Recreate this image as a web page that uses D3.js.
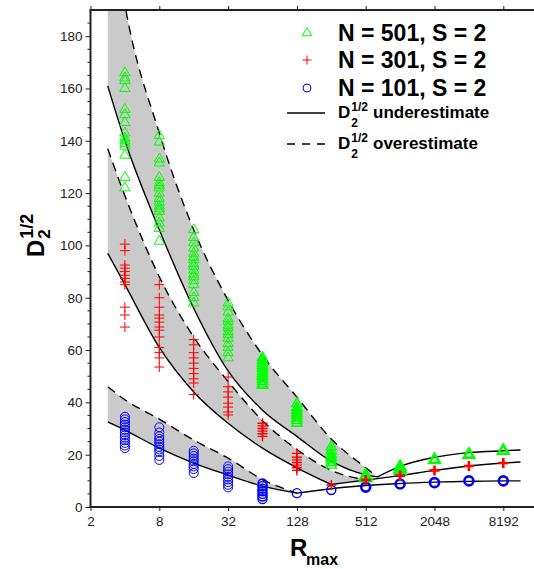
<!DOCTYPE html>
<html>
<head>
<meta charset="utf-8">
<script src="https://cdn.jsdelivr.net/npm/d3@7"></script>
<style>
  body { margin: 0; background: #fff; }
  svg { font-family: "Liberation Sans", Arial, sans-serif; }
  .tick-label { font-size: 13.5px; fill: #222; }
  .legend-big { font-size: 23px; font-weight: bold; }
  .legend-small { font-size: 17px; font-weight: bold; }
</style>
</head>
<body>
<div class="chart"></div>
<script>
/* values */
const xTicks = [2, 8, 32, 128, 512, 2048, 8192];
const yTicks = [0, 20, 40, 60, 80, 100, 120, 140, 160, 180];
const rMax = [4, 8, 16, 32, 64, 128, 256, 512, 1024, 2048, 4096, 8192];

// N = 501 (green triangles), one list per R_max
const n501 = [
  [166, 164, 163, 160, 152, 150, 147, 143, 141, 140, 139, 138, 134.5, 126, 122],
  [142, 139.5, 133, 131.5, 126, 124, 123, 122, 120, 118, 116.5, 115, 114, 113, 110.5, 108.5, 106.5, 101.6],
  [106, 103, 101, 99, 97, 95.5, 94.5, 93, 92, 90.5, 89, 88, 86.5, 85, 82, 80, 78],
  [78, 76.5, 74.5, 72, 71, 69.5, 68.5, 67, 66, 64.5, 62.5, 61, 59, 57],
  [57, 56, 55, 54, 53, 52, 51, 50, 49, 48, 47, 46.5],
  [39.5, 38, 37, 36, 35, 34, 33, 32],
  [23, 21.5, 20, 19, 18, 17, 16],
  [12, 11.5, 11],
  [15.3, 14.5, 13.8],
  [18],
  [20],
  [21.5]
];
// N = 301 (red plus)
const n301 = [
  [100.5, 98, 92.5, 91.3, 90, 88.6, 87.4, 86, 85, 76.4, 73.4, 68.8],
  [85, 80, 76.4, 73.4, 72.2, 70.7, 68.8, 67.6, 65, 61, 59, 57, 53.5],
  [64, 62, 59, 57, 55, 53, 51, 49, 47.4, 43],
  [49.7, 46, 44, 42, 39.7, 38.2, 36.3, 35.2],
  [32, 31, 30, 29, 28, 27],
  [20.5, 19, 18, 17, 16, 15, 14],
  [8.4],
  [10.3],
  [12],
  [14],
  [15.7],
  [16.8]
];
// N = 101 (blue circles)
const n101 = [
  [34.5, 33.5, 32.5, 31.5, 30.5, 29.5, 28.5, 27.5, 26.5, 25.5, 24.5, 23.5, 22.5],
  [30.5, 28.5, 27, 26, 25, 24, 23, 22, 21, 19.5, 18],
  [21.5, 20.5, 19.5, 18.5, 17.5, 16.5, 15.5, 14.5, 13],
  [15.5, 14.5, 13.5, 12.5, 11.5, 10.5, 9.5, 8.5, 7.5],
  [9, 8, 7, 6, 5, 4, 3],
  [5.3],
  [6.5],
  [7.6],
  [8.8],
  [9.3],
  [10],
  [10]
];

// theory curves (solid = underestimate, dashed = overestimate)
const solid501X = [2.83, 4, 8, 16, 32, 64, 128, 256, 512, 650, 1024, 2048, 4096, 8192, 11585];
const solid501 = [161, 140, 106, 76, 52, 37, 27, 17.5, 12.3, 11.5, 15.5, 19, 20.8, 21.5, 21.8];
const dash501X = [2.83, 4, 8, 16, 32, 64, 128, 256, 512, 650];
const dash501 = [235, 192, 143, 106, 79, 58, 42, 26, 15, 11.5];

const solid301X = [2.83, 4, 8, 16, 32, 64, 128, 256, 512, 1024, 2048, 4096, 8192, 11585];
const solid301 = [97, 85, 61, 44, 32, 22.5, 15, 8.6, 10.3, 12, 14, 15.7, 16.8, 17.2];
const dash301X = [2.83, 4, 8, 16, 32, 64, 128, 256, 512];
const dash301 = [137, 119, 88, 65, 48, 33, 22, 14, 10.3];

const solid101X = [2.83, 4, 8, 16, 32, 64, 128, 256, 512, 1024, 2048, 4096, 8192, 11585];
const solid101 = [32.5, 29.4, 22.5, 16.8, 12.2, 8, 5.3, 7, 8.2, 9, 9.5, 9.8, 10, 10];
const dash101X = [2.83, 4, 8, 16, 32, 64, 128];
const dash101 = [46, 41, 33.6, 25.6, 18.7, 10.5, 5.3];

const W = 534, H = 569;
const svg = d3.select(".chart").append("svg")
    .attr("width", W)
    .attr("height", H);

const pLeft = 90.5, pTop = 10, pBottom = 507;
const x = d3.scaleLog().base(2).domain([2, 16384]).range([pLeft, pLeft + 13 * 34.4]);
const y = d3.scaleLinear().domain([0, 190]).range([pBottom, pTop]);

svg.append("clipPath").attr("id", "plot")
  .append("rect").attr("x", pLeft).attr("y", pTop)
  .attr("width", W - pLeft).attr("height", pBottom - pTop);

const plot = svg.append("g").attr("clip-path", "url(#plot)");

const zipPts = (xs, ys) => ys.map((v, i) => [xs[i], v]);
const smooth = d3.line().x(d => x(d[0])).y(d => y(d[1])).curve(d3.curveMonotoneX);
const join = (a, b) => a + "L" + b.slice(1);

const bands = [
  {sx: solid501X, s: solid501, dx: dash501X, d: dash501},
  {sx: solid301X, s: solid301, dx: dash301X, d: dash301},
  {sx: solid101X, s: solid101, dx: dash101X, d: dash101}
];

bands.forEach(b => {
  const sPts = zipPts(b.sx, b.s);
  const k = b.s.indexOf(d3.min(b.s));          // kink at the minimum
  b.fall = sPts.slice(0, k + 1);
  b.rise = sPts.slice(k);
  b.dash = zipPts(b.dx, b.d);
  const meetX = b.dx[b.dx.length - 1];
  const riseToMeet = b.rise.filter(p => p[0] <= meetX);
  let back = smooth(b.fall.slice().reverse());
  if (riseToMeet.length > 1) back = join(smooth(riseToMeet.slice().reverse()), back);
  plot.append("path").attr("d", join(smooth(b.dash), back) + "Z")
    .attr("fill", "#cacaca").attr("stroke", "none");
});

bands.forEach(b => {
  plot.append("path").attr("d", smooth(b.dash)).attr("fill", "none")
    .attr("stroke", "#000").attr("stroke-width", 1.4).attr("stroke-dasharray", "9,6");
  plot.append("path").attr("d", smooth(b.fall)).attr("fill", "none")
    .attr("stroke", "#000").attr("stroke-width", 1.4);
  plot.append("path").attr("d", smooth(b.rise)).attr("fill", "none")
    .attr("stroke", "#000").attr("stroke-width", 1.4);
});

// markers
const tri = d3.symbol().type(d3.symbolTriangle).size(46)();
const plus = "M-5,0H5M0,-5V5";
const strokeFor = r => (r >= 512 ? 2.6 : r >= 64 ? 1.4 : 1);

const flat = (series) => series.flatMap((vals, i) => vals.map(v => ({r: rMax[i], v})));

plot.selectAll("circle.n101")
  .data(flat(n101))
  .enter()
  .append("circle")
  .attr("class", "n101")
  .attr("cx", d => x(d.r))
  .attr("cy", d => y(d.v))
  .attr("r", 4.5)
  .attr("fill", "none")
  .attr("stroke", "#0000ff")
  .attr("stroke-width", d => strokeFor(d.r));

plot.selectAll("path.n501")
  .data(flat(n501))
  .enter()
  .append("path")
  .attr("class", "n501")
  .attr("d", tri)
  .attr("transform", d => `translate(${x(d.r)},${y(d.v)})`)
  .attr("fill", "none")
  .attr("stroke", "#00ff00")
  .attr("stroke-width", d => strokeFor(d.r));

plot.selectAll("path.n301")
  .data(flat(n301))
  .enter()
  .append("path")
  .attr("class", "n301")
  .attr("d", plus)
  .attr("transform", d => `translate(${x(d.r)},${y(d.v)})`)
  .attr("fill", "none")
  .attr("stroke", "#ff0000")
  .attr("stroke-width", d => strokeFor(d.r));

// axes
svg.append("line").attr("x1", pLeft).attr("x2", pLeft).attr("y1", pTop).attr("y2", pBottom)
  .attr("stroke", "#222").attr("stroke-width", 2);
svg.append("line").attr("x1", pLeft - 1).attr("x2", W).attr("y1", pBottom).attr("y2", pBottom)
  .attr("stroke", "#222").attr("stroke-width", 2);
svg.append("line").attr("x1", pLeft - 1).attr("x2", W).attr("y1", pTop).attr("y2", pTop)
  .attr("stroke", "#222").attr("stroke-width", 2);

const yAxis = d3.axisLeft(y).tickValues(yTicks).tickSize(5).tickPadding(3);
const gy = svg.append("g").attr("transform", `translate(${pLeft},0)`).call(yAxis);
gy.select(".domain").remove();
gy.selectAll("text").attr("class", "tick-label");
gy.attr("font-family", null).attr("font-size", null);
gy.selectAll("line").attr("stroke", "#222");

const minor = d3.range(5, 190, 5).filter(v => v % 20 !== 0);
svg.selectAll("line.minor")
  .data(minor)
  .enter()
  .append("line")
  .attr("class", "minor")
  .attr("x1", pLeft - 3).attr("x2", pLeft)
  .attr("y1", d => y(d)).attr("y2", d => y(d))
  .attr("stroke", "#222");

const xAxis = d3.axisBottom(x).tickValues(xTicks).tickFormat(d3.format("d")).tickSize(4).tickPadding(5);
const gx = svg.append("g").attr("transform", `translate(0,${pBottom})`).call(xAxis);
gx.select(".domain").remove();
gx.selectAll("text").attr("class", "tick-label");
gx.attr("font-family", null).attr("font-size", null);
gx.selectAll("line").attr("stroke", "#222");

const xTop = d3.axisTop(x).tickValues(xTicks).tickFormat("").tickSize(4);
const gt = svg.append("g").attr("transform", `translate(0,${pTop})`).call(xTop);
gt.select(".domain").remove();
gt.selectAll("line").attr("stroke", "#222");

// axis titles
svg.append("text").attr("x", 290).attr("y", 556)
  .attr("font-size", 24).attr("font-weight", "bold").text("R");
svg.append("text").attr("x", 306).attr("y", 565)
  .attr("font-size", 16).attr("font-weight", "bold").text("max");

const yg = svg.append("g").attr("transform", "translate(44,257) rotate(-90)");
const dY = yg.append("text").attr("x", 0).attr("y", 0)
  .attr("font-size", 24).attr("font-weight", "bold").text("D");
const dw = dY.node().getComputedTextLength();
yg.append("text").attr("x", dw + 1).attr("y", -11)
  .attr("font-size", 18).attr("font-weight", "bold").text("1/2");
yg.append("text").attr("x", dw + 1).attr("y", 6)
  .attr("font-size", 17).attr("font-weight", "bold").text("2");

// legend
const legend = svg.append("g");
const legRows = [
  {label: "N = 501, S = 2", y: 41, mark: "tri"},
  {label: "N = 301, S = 2", y: 68, mark: "plus"},
  {label: "N = 101, S = 2", y: 96, mark: "circle"}
];
legRows.forEach(r => {
  const my = r.y - 8;
  if (r.mark === "tri") {
    legend.append("path").attr("d", d3.symbol().type(d3.symbolTriangle).size(40)())
      .attr("transform", `translate(307,${my})`).attr("fill", "none").attr("stroke", "#00ff00");
  } else if (r.mark === "plus") {
    legend.append("path").attr("d", "M-4.5,0H4.5M0,-4.5V4.5")
      .attr("transform", `translate(307,${my})`).attr("fill", "none").attr("stroke", "#ff0000");
  } else {
    legend.append("circle").attr("cx", 307).attr("cy", my).attr("r", 4)
      .attr("fill", "none").attr("stroke", "#0000ff");
  }
  legend.append("text").attr("class", "legend-big").attr("x", 338).attr("y", r.y).text(r.label);
});

const lineRows = [
  {label: "underestimate", y: 118, dash: null},
  {label: "overestimate", y: 149, dash: "8,7"}
];
lineRows.forEach(r => {
  legend.append("line").attr("x1", 287).attr("x2", 325).attr("y1", r.y - 5).attr("y2", r.y - 5)
    .attr("stroke", "#000").attr("stroke-width", 1.4).attr("stroke-dasharray", r.dash);
  const t = legend.append("text").attr("class", "legend-small").attr("x", 338).attr("y", r.y).text("D");
  const w = t.node().getComputedTextLength();
  legend.append("text").attr("x", 338 + w + 1).attr("y", r.y - 7)
    .attr("font-size", 12).attr("font-weight", "bold").text("1/2");
  legend.append("text").attr("x", 338 + w + 1).attr("y", r.y + 9)
    .attr("font-size", 12).attr("font-weight", "bold").text("2");
  legend.append("text").attr("class", "legend-small").attr("x", 373).attr("y", r.y).text(r.label);
});
</script>
</body>
</html>
